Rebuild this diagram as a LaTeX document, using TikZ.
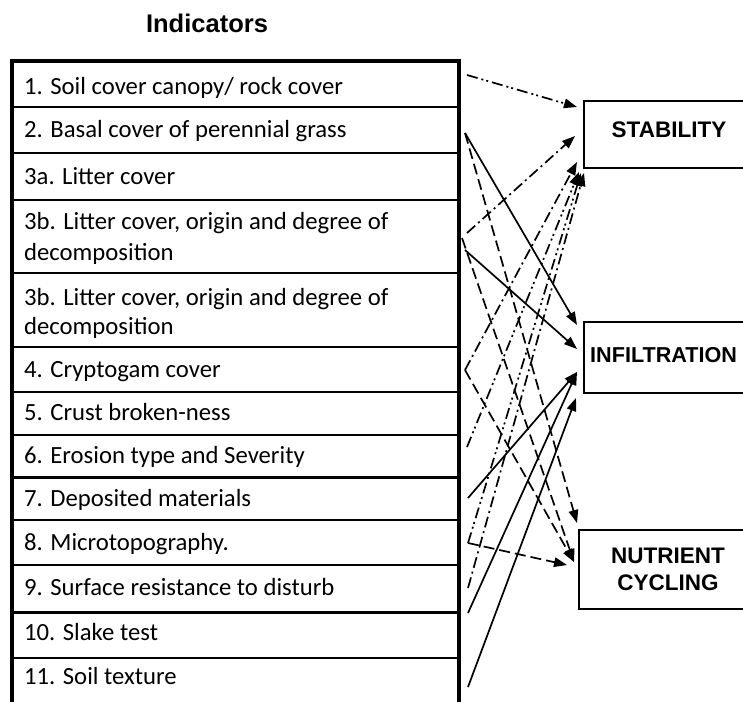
\documentclass[tikz,border=0pt]{standalone}
\usepackage{fontspec}
\setmainfont{Carlito}
\newfontfamily\labfont{Liberation Sans}
\usetikzlibrary{arrows.meta}
\begin{document}
\begin{tikzpicture}[x=1pt,y=-1pt,
  rowtext/.style={anchor=base west, inner sep=0pt, font=\fontsize{24.7}{31}\selectfont, align=left},
  lbl/.style={anchor=base, inner sep=0pt, font=\labfont\bfseries\fontsize{22.5}{27}\selectfont, align=center},
  sepline/.style={line width=2.4pt},
  border/.style={line width=4pt, line join=miter},
  conn/.style={line width=1.7pt, -{Triangle[length=13pt,width=9.5pt]}},
  stab/.style={conn, dash pattern=on 11pt off 4pt on 2pt off 4pt},
  stabb/.style={conn, dash pattern=on 11pt off 4pt on 2pt off 3pt on 2pt off 4pt},
  infl/.style={conn},
  nutr/.style={conn, dash pattern=on 11pt off 5pt},
  boxst/.style={draw, line width=1.8pt, anchor=north west, inner sep=0pt, minimum width=220pt}]
\useasboundingbox (0,0) rectangle (743,701);
\fill[white] (0,0) rectangle (743,701);

% title
\node[anchor=base, inner sep=0pt, font=\labfont\bfseries\fontsize{25.5}{30}\selectfont] (title) at (207,33) {Indicators};

% table
\draw[border] (12,703) -- (12,61) -- (458.5,61) -- (458.5,703);
\foreach \y in {107,153,200,273,347,392,435,477.5,520,565,612.5,658}
  \draw[sepline] (12,\y) -- (458.5,\y);

\node[rowtext] (r1) at (24,94) {1. Soil cover canopy/ rock cover};
\node[rowtext] (r2) at (24,137.5) {2. Basal cover of perennial grass};
\node[rowtext] (r3a) at (24,184.5) {3a. Litter cover};
\node[rowtext] (r3b) at (24,229.5) {3b. Litter cover, origin and degree of};
\node[rowtext] (r3bb) at (24,260) {decomposition};
\node[rowtext] (r3c) at (24,305.5) {3b. Litter cover, origin and degree of};
\node[rowtext] (r3cc) at (24,334.5) {decomposition};
\node[rowtext] (r4) at (24,377) {4. Cryptogam cover};
\node[rowtext] (r5) at (24,420.5) {5. Crust broken-ness};
\node[rowtext] (r6) at (24,463.5) {6. Erosion type and Severity};
\node[rowtext] (r7) at (24,506.5) {7. Deposited materials};
\node[rowtext] (r8) at (24,550) {8. Microtopography.};
\node[rowtext] (r9) at (24,595) {9. Surface resistance to disturb};
\node[rowtext] (r10) at (24,640) {10. Slake test};
\node[rowtext] (r11) at (24,684) {11. Soil texture};

% right boxes
\node[boxst, minimum height=67pt] (stabbox) at (583,100) {};
\node[boxst, minimum height=71pt] (infbox) at (583,321) {};
\node[boxst, minimum height=79pt] (nutbox) at (578,529) {};
\node[lbl] (stabl) at (669,137) {STABILITY};
\node[lbl, anchor=base west, font=\labfont\bfseries\fontsize{21.6}{27}\selectfont] (infl) at (590,362) {INFILTRATION};
\node[lbl] (nutl1) at (668,563) {NUTRIENT};
\node[lbl] (nutl2) at (668,590) {CYCLING};

% start points
\coordinate (s1) at (467,75);
\coordinate (s2) at (465,133);
\coordinate (s3a) at (467,233);
\coordinate (s3b) at (462,238);
\coordinate (s3c) at (465,250);
\coordinate (s4) at (465,370);
\coordinate (s6) at (467,447);
\coordinate (s7) at (468,498);
\coordinate (s8) at (468,543);
\coordinate (s9) at (468,588);
\coordinate (s10) at (468,613);
\coordinate (s11) at (468,687);

% end points
\coordinate (eS1) at (577,107);
\coordinate (eS2) at (575,136);
\coordinate (eS3) at (577,162);
\coordinate (eS4) at (579,172);
\coordinate (eS5) at (581,173);
\coordinate (eS6) at (584,173);
\coordinate (eI1) at (577,325);
\coordinate (eI2) at (577,349);
\coordinate (eI3) at (577,372);
\coordinate (eI4) at (576,398);
\coordinate (eN1) at (577,523);
\coordinate (eN2) at (574,562);
\coordinate (eN3) at (567,565);

% stability
\draw[stabb] (s1) -- (eS1);
\draw[stab] (s3a) -- (eS2);
\draw[stab] (s4) -- (eS3);
\draw[stabb] (s6) -- (eS4);
\draw[stabb] (s8) -- (eS5);
\draw[stab] (s9) -- (eS6);
% infiltration
\draw[infl] (s2) -- (eI1);
\draw[infl] (s3c) -- (eI2);
\draw[infl] (s7) -- (eI3);
\draw[infl] (s10) -- (eI3);
\draw[infl] (s11) -- (eI4);
% nutrient cycling
\draw[nutr] (s2) -- (eN1);
\draw[nutr] (s3b) -- (eN2);
\draw[nutr] (s4) -- (eN2);
\draw[nutr] (s8) -- (eN3);
\end{tikzpicture}
\end{document}
